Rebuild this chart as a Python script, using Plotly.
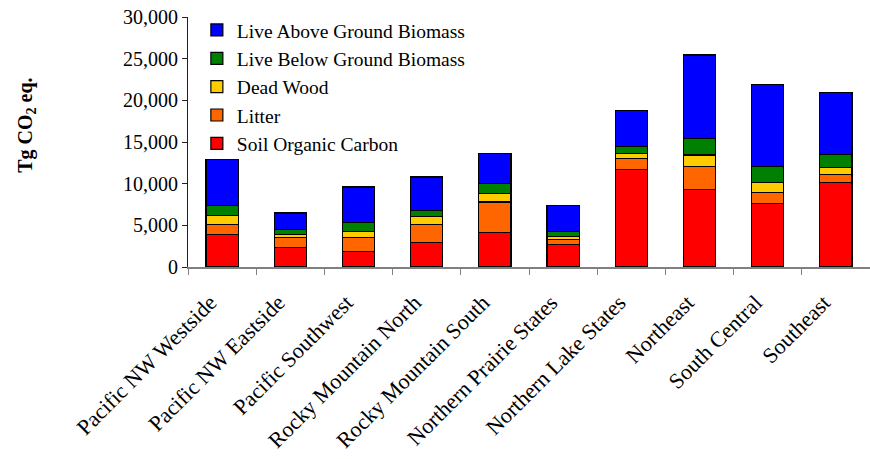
import plotly.graph_objects as go

categories = ["Pacific NW Westside", "Pacific NW Eastside", "Pacific Southwest",
              "Rocky Mountain North", "Rocky Mountain South", "Northern Prairie States",
              "Northern Lake States", "Northeast", "South Central", "Southeast"]

soil_organic_carbon = [3900, 2300, 1900, 2900, 4100, 2700, 11700, 9300, 7600, 10150]
litter = [1200, 1200, 1600, 2200, 3700, 560, 1300, 2800, 1300, 960]
dead_wood = [1100, 400, 800, 1000, 1000, 400, 600, 1350, 1200, 800]
live_below = [1200, 570, 1000, 700, 1200, 600, 850, 2000, 2000, 1560]
live_above = [5500, 2000, 4300, 4000, 3600, 3160, 4350, 10000, 9800, 7470]

series = [
    ("Soil Organic Carbon", soil_organic_carbon, "#FF0000"),
    ("Litter", litter, "#FF6600"),
    ("Dead Wood", dead_wood, "#FFCC00"),
    ("Live Below Ground Biomass", live_below, "#008000"),
    ("Live Above Ground Biomass", live_above, "#0000FF"),
]

fig = go.Figure()
for name, vals, color in series:
    fig.add_trace(go.Bar(
        x=categories, y=vals, name=name,
        marker=dict(color=color, line=dict(color="#000000", width=1.2)),
    ))

SERIF = "Liberation Serif, Times New Roman, serif"

fig.update_layout(
    template="none",
    width=870, height=459,
    barmode="stack", bargap=0.53,
    plot_bgcolor="white", paper_bgcolor="white",
    margin=dict(l=188, r=0, t=17, b=192, pad=0),
    font=dict(family=SERIF, size=20, color="black"),
    showlegend=True,
    legend=dict(
        x=0.013, y=1.025, xanchor="left", yanchor="top",
        traceorder="reversed",
        font=dict(family=SERIF, size=19.5, color="black"),
        bgcolor="rgba(0,0,0,0)", borderwidth=0,
        itemwidth=30, tracegroupgap=0,
    ),
    xaxis=dict(
        tickangle=-45,
        tickson="boundaries",
        ticks="outside", ticklen=6, tickcolor="#808080", tickwidth=1,
        showline=True, linecolor="#808080", linewidth=2,
        showgrid=False, zeroline=False,
        ticklabelstandoff=12, ticklabelshift=-12,
        tickfont=dict(family=SERIF, size=22, color="black"),
    ),
    yaxis=dict(
        range=[0, 30000], dtick=5000,
        tickformat=",d",
        ticks="outside", ticklen=5, tickcolor="#202020", tickwidth=1,
        showline=True, linecolor="#202020", linewidth=1,
        showgrid=False, zeroline=False,
        tickfont=dict(family=SERIF, size=20, color="black"),
    ),
    annotations=[dict(
        text="<b>Tg CO<sub>2</sub> eq.</b>",
        xref="paper", yref="paper",
        x=-0.236, y=0.565, textangle=-90,
        showarrow=False, xanchor="center", yanchor="middle",
        font=dict(family=SERIF, size=20, color="black"),
    )],
)

fig.write_html(
    "out.html",
    config={"displayModeBar": False},
    post_script="document.body.style.margin='0';document.body.style.overflow='hidden';",
)
